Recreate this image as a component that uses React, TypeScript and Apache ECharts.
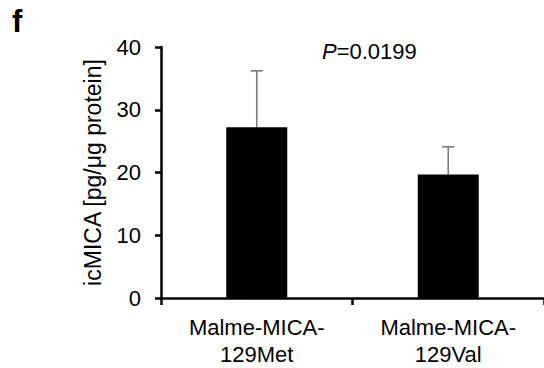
import React, { useEffect, useRef } from "react";
import * as echarts from "echarts";

const categories = ["Malme-MICA-\n129Met", "Malme-MICA-\n129Val"];
const means = [27.2, 19.7];
const errors = [9.0, 4.4];
const yTicks = { min: 0, max: 40, interval: 10 };
const yAxisTitle = "icMICA [pg/μg protein]";
const pValueLabel = "=0.0199";
const panelLabel = "f";

const FONT = "'Liberation Sans', Arial, sans-serif";

export default function App() {
  const ref = useRef<HTMLDivElement>(null);
  useEffect(() => {
    if (!ref.current) return;
    const chart = echarts.init(ref.current, undefined, { renderer: "svg" });
    const errData = means.map((m, i) => [i, m, m + errors[i]]);
    chart.setOption({
      animation: false,
      backgroundColor: "#fff",
      grid: { left: 161, top: 47, width: 391, height: 258 },
      xAxis: {
        type: "category",
        data: categories,
        axisLine: { lineStyle: { color: "#000", width: 2.5 } },
        axisTick: { show: true, length: 7, lineStyle: { color: "#000", width: 2.5 } },
        axisLabel: {
          color: "#000",
          fontFamily: FONT,
          fontSize: 22,
          lineHeight: 27,
          margin: 16,
        },
      },
      yAxis: {
        type: "value",
        min: yTicks.min,
        max: yTicks.max,
        interval: yTicks.interval,
        name: yAxisTitle,
        nameLocation: "middle",
        nameGap: 57,
        nameTextStyle: { color: "#000", fontFamily: FONT, fontSize: 23 },
        splitLine: { show: false },
        axisLine: { show: true, lineStyle: { color: "#000", width: 2.5 } },
        axisTick: { show: true, length: 6, lineStyle: { color: "#000", width: 2.5 } },
        axisLabel: { color: "#000", fontFamily: FONT, fontSize: 22, margin: 20 },
      },
      series: [
        {
          type: "bar",
          data: means,
          barWidth: 61,
          itemStyle: { color: "#000" },
          z: 2,
        },
        {
          type: "custom",
          data: errData,
          z: 1,
          renderItem: (params: any, api: any) => {
            const base = api.coord([api.value(0), api.value(1)]);
            const top = api.coord([api.value(0), api.value(2)]);
            const style = { stroke: "#7a7a7a", lineWidth: 1.6 };
            return {
              type: "group",
              children: [
                { type: "line", shape: { x1: base[0], y1: base[1], x2: top[0], y2: top[1] }, style },
                { type: "line", shape: { x1: top[0] - 6, y1: top[1], x2: top[0] + 6, y2: top[1] }, style },
              ],
            };
          },
        },
      ],
      graphic: [
        {
          type: "text",
          left: 12,
          top: 6,
          style: { text: panelLabel, font: `bold 31px ${FONT}`, fill: "#000" },
        },
        {
          type: "text",
          x: 322,
          y: 51,
          style: {
            text: "{i|P}" + pValueLabel,
            fill: "#000",
            font: `22px ${FONT}`,
            verticalAlign: "middle",
            rich: { i: { fontStyle: "italic", fontFamily: FONT, fontSize: 22 } },
          },
        },
      ],
    });
    return () => chart.dispose();
  }, []);
  return (
    <div
      ref={ref}
      style={{ position: "fixed", left: 0, top: 0, width: 544, height: 368 }}
    />
  );
}
